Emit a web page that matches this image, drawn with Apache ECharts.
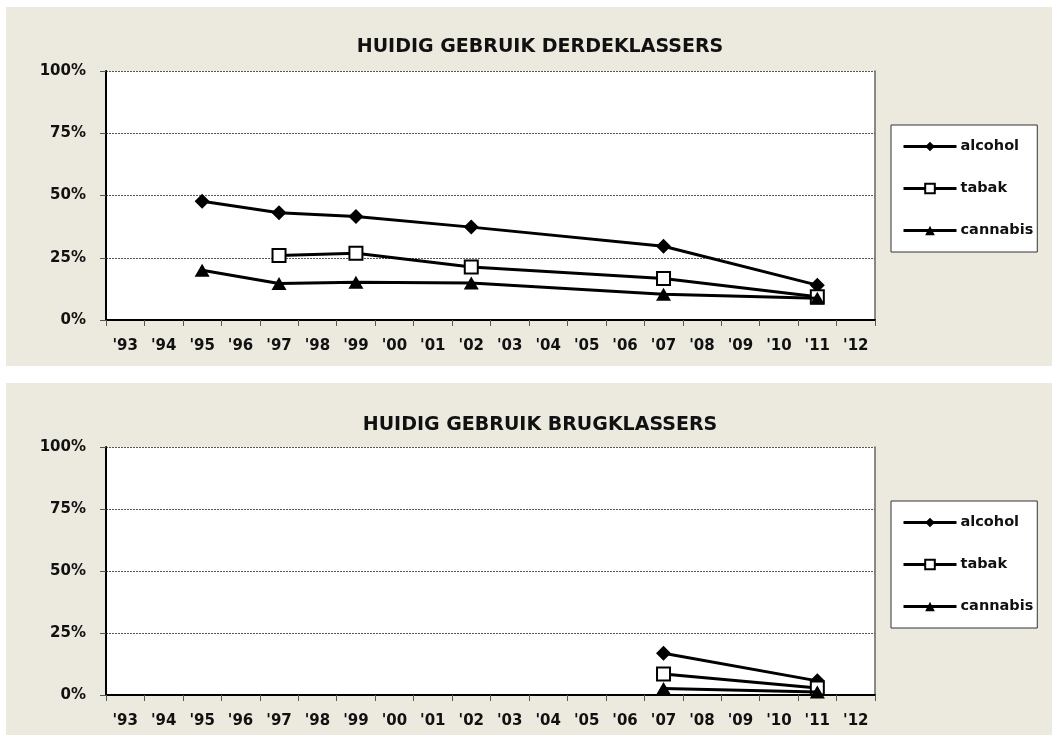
<!DOCTYPE html>
<html>
<head>
<meta charset="utf-8">
<script src="https://cdn.jsdelivr.net/npm/echarts@6/dist/echarts.min.js"></script>
<style>
html,body{margin:0;padding:0;background:#fff;}
#c{width:1052px;height:735px;}
</style>
</head>
<body>
<div id="c"></div>
<script>
const categories = ["'93","'94","'95","'96","'97","'98","'99","'00","'01","'02","'03","'04","'05","'06","'07","'08","'09","'10","'11","'12"];
const yTicks = [0, 25, 50, 75, 100];

// Derdeklassers
const topAlcoholYears = ["'95","'97","'99","'02","'07","'11"];
const topAlcohol = [47.7, 43.1, 41.6, 37.3, 29.6, 14.0];
const topTabakYears = ["'97","'99","'02","'07","'11"];
const topTabak = [25.9, 26.8, 21.3, 16.7, 9.3];
const topCannabisYears = ["'95","'97","'99","'02","'07","'11"];
const topCannabis = [20.0, 14.7, 15.2, 14.9, 10.3, 8.7];

// Brugklassers
const botAlcoholYears = ["'07","'11"];
const botAlcohol = [16.8, 5.7];
const botTabakYears = ["'07","'11"];
const botTabak = [8.5, 2.8];
const botCannabisYears = ["'07","'11"];
const botCannabis = [2.6, 1.2];

const titles = ['HUIDIG GEBRUIK DERDEKLASSERS', 'HUIDIG GEBRUIK BRUGKLASSERS'];
const seriesNames = ['alcohol', 'tabak', 'cannabis'];

const FONT = '"DejaVu Sans", "Noto Sans", sans-serif';
const BEIGE = '#ECE9DF';

function pairs(years, vals){ return years.map((y,i)=>[y, vals[i]]); }

const grids = [
  {left:106, top:71, width:769, height:249},
  {left:106, top:447, width:769, height:248}
];

function xAxis(gi){
  return {
    type:'category', gridIndex:gi, data:categories, boundaryGap:true,
    axisLine:{lineStyle:{color:'#000', width:2}},
    axisTick:{show:true, length:6, lineStyle:{color:'#555', width:1}},
    axisLabel:{color:'#111', fontFamily:FONT, fontWeight:'bold', fontSize:15, margin:19, interval:0},
    splitLine:{show:false}
  };
}
function yAxis(gi){
  return {
    type:'value', gridIndex:gi, min:0, max:100, interval:25,
    axisLine:{show:true, lineStyle:{color:'#000', width:2}},
    axisTick:{show:true, length:6, lineStyle:{color:'#555', width:1}},
    axisLabel:{color:'#111', fontFamily:FONT, fontWeight:'bold', fontSize:15, margin:20, formatter:'{value}%'},
    splitLine:{show:true, lineStyle:{color:'#555', type:[2,1], width:1}}
  };
}
function yAxisRight(gi){
  return {
    type:'value', gridIndex:gi, min:0, max:100, interval:25, position:'right',
    axisLine:{show:true, lineStyle:{color:'#666', width:1.5}},
    axisTick:{show:false}, axisLabel:{show:false}, splitLine:{show:false}
  };
}

const symbols = {
  alcohol:{symbol:'diamond', size:[15,15], itemStyle:{color:'#000', borderColor:'#000', borderWidth:0}},
  tabak:{symbol:'rect', size:[13,13], itemStyle:{color:'#fff', borderColor:'#000', borderWidth:2}},
  cannabis:{symbol:'triangle', size:[15,13], itemStyle:{color:'#000', borderColor:'#000', borderWidth:0}}
};

function mkSeries(name, gi, data){
  const s = symbols[name];
  return {
    name, type:'line', xAxisIndex:gi, yAxisIndex:gi*2, data,
    connectNulls:true, symbol:s.symbol, symbolSize:s.size, showAllSymbol:true,
    lineStyle:{color:'#000', width:3},
    itemStyle:s.itemStyle,
    z: name==='tabak'?3:(name==='cannabis'?4:2),
    animation:false
  };
}

function legend(top){
  return {
    orient:'vertical', left:891, top:top,
    data:seriesNames,
    backgroundColor:'#fff', borderColor:'#333', borderWidth:1,
    padding:[14,4,14,11], itemGap:27, itemWidth:53, itemHeight:12,
    lineStyle:{color:'#000', width:3},
    textStyle:{color:'#111', fontFamily:FONT, fontWeight:'bold', fontSize:14.5, padding:[0,0,0,-1]},
    selectedMode:false
  };
}

const option = {
  backgroundColor:'#fff',
  animation:false,
  graphic:[
    {type:'rect', shape:{x:6, y:7, width:1046, height:359}, style:{fill:BEIGE}, z:-10, silent:true},
    {type:'rect', shape:{x:6, y:383, width:1046, height:352}, style:{fill:BEIGE}, z:-10, silent:true}
  ],
  title:[
    {text:titles[0], left:535, top:33, textAlign:'center', textStyle:{fontFamily:FONT, fontWeight:'bold', fontSize:19, color:'#111'}},
    {text:titles[1], left:535, top:411, textAlign:'center', textStyle:{fontFamily:FONT, fontWeight:'bold', fontSize:19, color:'#111'}}
  ],
  legend:[legend(125), legend(501)],
  grid: grids.map(g=>Object.assign({show:true, backgroundColor:'#fff', borderWidth:0}, g)),
  xAxis:[xAxis(0), xAxis(1)],
  yAxis:[yAxis(0), yAxisRight(0), yAxis(1), yAxisRight(1)],
  series:[
    mkSeries('alcohol', 0, pairs(topAlcoholYears, topAlcohol)),
    mkSeries('tabak', 0, pairs(topTabakYears, topTabak)),
    mkSeries('cannabis', 0, pairs(topCannabisYears, topCannabis)),
    mkSeries('alcohol', 1, pairs(botAlcoholYears, botAlcohol)),
    mkSeries('tabak', 1, pairs(botTabakYears, botTabak)),
    mkSeries('cannabis', 1, pairs(botCannabisYears, botCannabis))
  ]
};
option.yAxis[3].gridIndex = 1;
option.series.forEach(s=>{ if (s.xAxisIndex===1) s.yAxisIndex = 2; });

const chart = echarts.init(document.getElementById('c'), null, {renderer:'canvas'});
chart.setOption(option);
</script>
</body>
</html>
